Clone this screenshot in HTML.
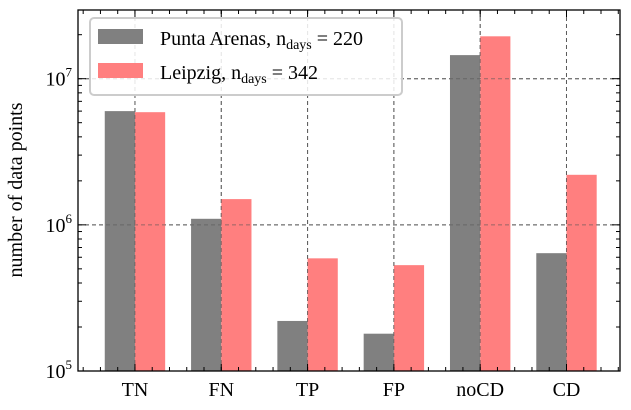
<!DOCTYPE html>
<html><head><meta charset="utf-8"><style>
body{margin:0;background:#fff}
svg,svg text{font-family:"Liberation Serif",serif}
</style></head><body>
<svg id="chart" width="631" height="405">
<g id="grid"></g>
<g id="bars"></g>
<g id="axes"></g>
<text x="22" y="190" font-size="20" text-anchor="middle" transform="rotate(-90 22 190)">number of data points</text>
<g>
<rect x="90" y="18" width="312" height="77" rx="4" fill="#fff" fill-opacity="0.85" stroke="#ccc" stroke-width="2"/>
<g>
<rect x="98" y="29" width="45" height="15" fill="#808080"/>
<text x="160" y="45" font-size="20" font-family="Liberation Serif, serif">Punta Arenas, n<tspan font-size="14" dy="4">days</tspan><tspan dy="-4"> = 220</tspan></text></g>
<g>
<rect x="98" y="63" width="45" height="15" fill="#ff7f7f"/>
<text x="160" y="79" font-size="20" font-family="Liberation Serif, serif">Leipzig, n<tspan font-size="14" dy="4">days</tspan><tspan dy="-4"> = 342</tspan></text></g>
</g>
</svg>
<script>
const categories=["TN","FN","TP","FP","noCD","CD"];
const puntaArenas=[6.0e6,1.1e6,2.2e5,1.8e5,1.45e7,6.4e5];
const leipzig=[5.9e6,1.5e6,5.9e5,5.3e5,1.95e7,2.2e6];
const yTickExps=[5,6,7];
const L=78,R=620,T=10,B=371;
const xmin=-0.66,xmax=5.62;
const ymin=5,ymax=7.47;
const x=v=>L+(v-xmin)/(xmax-xmin)*(R-L);
const y=v=>B-(Math.log10(v)-ymin)/(ymax-ymin)*(B-T);
const NS="http://www.w3.org/2000/svg";
function mk(p,tag,a){const e=document.createElementNS(NS,tag);for(const k in a)e.setAttribute(k,a[k]);p.appendChild(e);return e;}
const grid=document.getElementById('grid'),bars=document.getElementById('bars'),axes=document.getElementById('axes');
const bw=0.35;
categories.forEach((c,i)=>{
 const g=mk(grid,'line',{x1:x(i),x2:x(i),y1:T,y2:B,stroke:'#666','stroke-dasharray':'4,3','stroke-width':1});
 
 
 const b1=mk(bars,'rect',{x:x(i-bw),y:y(puntaArenas[i]),width:x(i)-x(i-bw),height:B-y(puntaArenas[i]),fill:'#808080'});
 
 
 const b2=mk(bars,'rect',{x:x(i),y:y(leipzig[i]),width:x(i+bw)-x(i),height:B-y(leipzig[i]),fill:'#ff7f7f'});
 
 
 const t=mk(axes,'text',{x:x(i),y:B+25,'font-size':20,'text-anchor':'middle'});
 t.textContent=c;
 
 
 [B,T].forEach((yy,k)=>mk(axes,'line',{x1:x(i),x2:x(i),y1:yy,y2:k?yy+7:yy-7,stroke:'#000'}));
});
categories.forEach((c,i)=>{
 const g=mk(bars,'line',{x1:x(i),x2:x(i),y1:T,y2:B,stroke:'#555','stroke-dasharray':'4,3','stroke-width':1,opacity:0.6});
 
 
});
for(let v=Math.ceil(xmin*5)/5;v<=xmax;v+=0.2){
 [B,T].forEach((yy,k)=>mk(axes,'line',{x1:x(v),x2:x(v),y1:yy,y2:k?yy+4:yy-4,stroke:'#000'}));
}
yTickExps.forEach(e=>{
 const yy=y(Math.pow(10,e));
 if(e>5){const g=mk(grid,'line',{x1:L,x2:R,y1:yy,y2:yy,stroke:'#666','stroke-dasharray':'4,3'});
 
 
 const g2=mk(bars,'line',{x1:L,x2:R,y1:yy,y2:yy,stroke:'#555','stroke-dasharray':'4,3',opacity:0.6});
 
 }
 mk(axes,'line',{x1:L,x2:L+8,y1:yy,y2:yy,stroke:'#000'});
 mk(axes,'line',{x1:R,x2:R-8,y1:yy,y2:yy,stroke:'#000'});
 const t=mk(axes,'text',{x:L-6,y:yy+7,'font-size':20,'text-anchor':'end'});
 t.innerHTML='10<tspan font-size="13" dy="-9">'+e+'</tspan>';
 
 
});
for(let e=5;e<8;e++)for(let m=2;m<10;m++){
 const v=m*Math.pow(10,e);if(Math.log10(v)>ymax)continue;
 const yy=y(v);
 mk(axes,'line',{x1:L,x2:L+4,y1:yy,y2:yy,stroke:'#000'});
 mk(axes,'line',{x1:R,x2:R-4,y1:yy,y2:yy,stroke:'#000'});
}
const f=mk(axes,'rect',{x:L,y:T,width:R-L,height:B-T,fill:'none',stroke:'#000','stroke-width':1.3});


</script>
</body></html>
